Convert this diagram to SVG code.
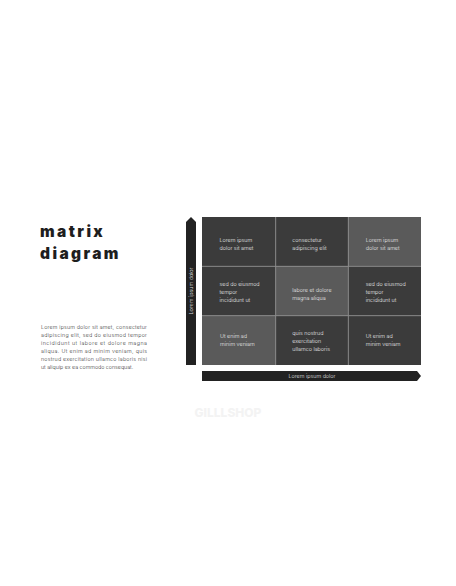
<svg xmlns="http://www.w3.org/2000/svg" width="456" height="586" viewBox="0 0 456 586">
<style>
.title{font-family:Inter,"Open Sans",sans-serif;font-weight:900;font-size:15.5px;fill:#1e1e1e;letter-spacing:2.4px}
.para{font-family:Inter,"Open Sans",sans-serif;font-weight:300;font-size:5.3px;fill:#3a3a3a}
.cell{font-family:Inter,"Open Sans",sans-serif;font-weight:300;font-size:5.4px;fill:#ececec}
.axis{font-family:Inter,"Open Sans",sans-serif;font-weight:300;font-size:5.4px;fill:#e0e0e0}
.dark{fill:#3b3b3b}
.light{fill:#5a5a5a}
.grid{stroke:#8c8c8c;stroke-width:0.8;fill:none}
.bar{fill:#222222}
</style>
<rect width="456" height="586" fill="#ffffff"/>
<g id="title">
<text class="title" x="40" y="237">matrix</text>
<text class="title" x="40" y="259">diagram</text>
</g>
<g id="paragraph">
<text class="para" x="41" y="329" textLength="106" lengthAdjust="spacing">Lorem ipsum dolor sit amet, consectetur</text>
<text class="para" x="41" y="337" textLength="106" lengthAdjust="spacing">adipiscing elit, sed do eiusmod tempor</text>
<text class="para" x="41" y="345" textLength="106" lengthAdjust="spacing">incididunt ut labore et dolore magna</text>
<text class="para" x="41" y="353" textLength="106" lengthAdjust="spacing">aliqua. Ut enim ad minim veniam, quis</text>
<text class="para" x="41" y="361" textLength="106" lengthAdjust="spacing">nostrud exercitation ullamco laboris nisi</text>
<text class="para" x="41" y="369">ut aliquip ex ea commodo consequat.</text>
</g>
<g id="axis-y">
<polygon class="bar" points="186,222 191,217 196,222 196,365 186,365"/>
<text class="axis" transform="translate(193,291) rotate(-90)" text-anchor="middle">Lorem ipsum dolor</text>
</g>
<g id="axis-x">
<polygon class="bar" points="202,371 417,371 421,376 417,381 202,381"/>
<text class="axis" x="312" y="378" text-anchor="middle">Lorem ipsum dolor</text>
</g>
<g id="cell-1-1"><rect class="dark" x="202" y="217" width="73.7" height="49.3"/>
<text class="cell" x="219.5" y="242">Lorem ipsum</text><text class="cell" x="219.5" y="250">dolor sit amet</text></g>
<g id="cell-1-2"><rect class="dark" x="275.7" y="217" width="72.6" height="49.3"/>
<text class="cell" x="292.3" y="242">consectetur</text><text class="cell" x="292.3" y="250">adipiscing elit</text></g>
<g id="cell-1-3"><rect class="light" x="348.3" y="217" width="72.7" height="49.3"/>
<text class="cell" x="365.7" y="242">Lorem ipsum</text><text class="cell" x="365.7" y="250">dolor sit amet</text></g>
<g id="cell-2-1"><rect class="dark" x="202" y="266.3" width="73.7" height="49.4"/>
<text class="cell" x="219.5" y="285.5">sed do eiusmod</text><text class="cell" x="219.5" y="293.5">tempor</text><text class="cell" x="219.5" y="301.5">incididunt  ut</text></g>
<g id="cell-2-2"><rect class="light" x="275.7" y="266.3" width="72.6" height="49.4"/>
<text class="cell" x="292.3" y="291.5">labore et dolore</text><text class="cell" x="292.3" y="299.5">magna aliqua</text></g>
<g id="cell-2-3"><rect class="dark" x="348.3" y="266.3" width="72.7" height="49.4"/>
<text class="cell" x="365.7" y="285.5">sed do eiusmod</text><text class="cell" x="365.7" y="293.5">tempor</text><text class="cell" x="365.7" y="301.5">incididunt  ut</text></g>
<g id="cell-3-1"><rect class="light" x="202" y="315.7" width="73.7" height="49.3"/>
<text class="cell" x="220" y="338">Ut enim ad</text><text class="cell" x="220" y="346">minim veniam</text></g>
<g id="cell-3-2"><rect class="dark" x="275.7" y="315.7" width="72.6" height="49.3"/>
<text class="cell" x="292.3" y="334.7">quis nostrud</text><text class="cell" x="292.3" y="342.7">exercitation</text><text class="cell" x="292.3" y="350.5">ullamco laboris</text></g>
<g id="cell-3-3"><rect class="dark" x="348.3" y="315.7" width="72.7" height="49.3"/>
<text class="cell" x="365.7" y="338">Ut enim ad</text><text class="cell" x="365.7" y="346">minim veniam</text></g>
<g id="grid-lines">
<line class="grid" x1="202" y1="266.3" x2="421" y2="266.3"/>
<line class="grid" x1="202" y1="315.7" x2="421" y2="315.7"/>
<line class="grid" x1="275.7" y1="217" x2="275.7" y2="365"/>
<line class="grid" x1="348.3" y1="217" x2="348.3" y2="365"/>
</g>
<g id="watermark">
<text x="228" y="417" text-anchor="middle" font-family="Inter,'Open Sans',sans-serif" font-weight="800" font-size="12px" fill="#f3f3f3">GILLLSHOP</text>
</g>
</svg>
